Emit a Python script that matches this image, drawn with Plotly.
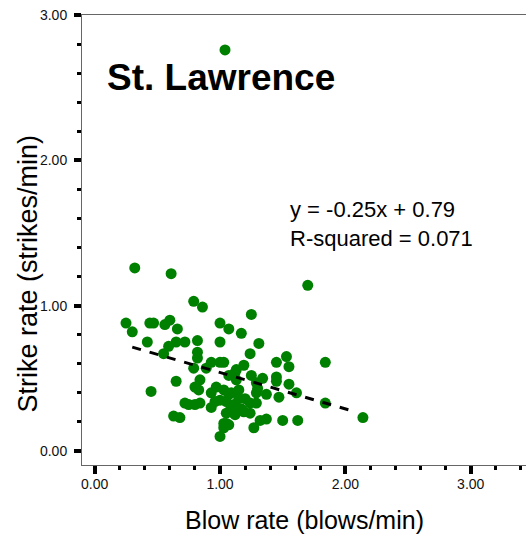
import plotly.graph_objects as go

# Blow rate (blows/min)
blow_rate = [0.32, 0.61, 1.70, 0.79, 0.86, 1.25, 0.25, 0.30, 0.44, 0.47,
             0.56, 0.60, 0.66, 1.00, 1.07, 1.17, 0.42, 0.59, 0.65, 0.72,
             0.55, 0.82, 1.00, 1.31, 0.82, 0.82, 1.24, 1.53, 1.45, 1.55,
             1.84, 0.79, 0.93, 1.00, 1.03, 0.89, 1.19, 1.13, 1.07, 1.25,
             0.84, 1.34, 1.45, 1.45, 0.65, 0.45, 0.80, 0.83, 0.97, 1.03,
             0.93, 1.13, 1.15, 1.29, 1.29, 1.37, 1.47, 1.55, 1.61, 1.84,
             2.14, 0.72, 0.80, 0.84, 0.93, 1.00, 1.05, 1.11, 1.19, 1.24,
             1.29, 1.05, 1.08, 0.63, 0.68, 1.03, 1.05, 1.00, 1.27, 1.32,
             1.37, 1.50, 1.62, 1.03, 1.11, 1.04, 1.07, 1.07, 1.15, 0.75,
             1.12, 0.96, 1.09, 1.30, 1.20, 1.17, 1.24, 1.12]
# Strike rate (strikes/min)
strike_rate = [1.26, 1.22, 1.14, 1.03, 0.99, 0.94, 0.88, 0.82, 0.88, 0.88,
               0.87, 0.90, 0.84, 0.88, 0.84, 0.81, 0.75, 0.72, 0.75, 0.75,
               0.67, 0.76, 0.75, 0.74, 0.68, 0.64, 0.67, 0.65, 0.61, 0.58,
               0.61, 0.57, 0.61, 0.61, 0.61, 0.57, 0.59, 0.56, 0.52, 0.52,
               0.49, 0.50, 0.51, 0.48, 0.48, 0.41, 0.44, 0.42, 0.44, 0.42,
               0.40, 0.49, 0.42, 0.47, 0.40, 0.39, 0.37, 0.46, 0.40, 0.33,
               0.23, 0.33, 0.32, 0.33, 0.30, 0.35, 0.34, 0.32, 0.27, 0.33,
               0.33, 0.26, 0.28, 0.24, 0.23, 0.19, 0.19, 0.10, 0.16, 0.21,
               0.22, 0.21, 0.21, 0.16, 0.26, 2.76, 0.39, 0.18, 0.36, 0.32,
               0.54, 0.34, 0.40, 0.43, 0.36, 0.29, 0.26, 0.25]

slope = -0.25
intercept = 0.79
fit_x = [0.30, 2.07]
fit_y = [slope * v + intercept for v in fit_x]

site_label = "St. Lawrence"
equation_text = "y = -0.25x + 0.79<br>R-squared = 0.071"
x_title = "Blow rate (blows/min)"
y_title = "Strike rate (strikes/min)"
tick_vals = [0, 1, 2, 3]
tick_text = ["0.00", "1.00", "2.00", "3.00"]

FONT = "Liberation Sans, Arial, sans-serif"

fig = go.Figure()
fig.add_trace(go.Scatter(
    x=blow_rate, y=strike_rate, mode="markers",
    marker=dict(color="#008000", size=11, line=dict(width=0)),
    showlegend=False, hoverinfo="skip"))
fig.add_trace(go.Scatter(
    x=fit_x, y=fit_y, mode="lines",
    line=dict(color="black", width=3, dash="dash"),
    showlegend=False, hoverinfo="skip"))

axis_common = dict(
    showgrid=False, zeroline=False,
    showline=True, linecolor="#666666", linewidth=1,
    ticks="outside", tickcolor="black",
    tickfont=dict(family=FONT, size=14, color="#111111"),
    tickvals=tick_vals, ticktext=tick_text,
)

fig.update_layout(
    width=526, height=543,
    margin=dict(l=82, r=0, t=15, b=78),
    paper_bgcolor="white", plot_bgcolor="white",
    xaxis=dict(range=[-0.101, 3.441], mirror=True,
               ticklen=8, tickwidth=4, ticklabelstandoff=-2,
               minor=dict(dtick=0.2, tick0=0, ticks="outside", ticklen=4,
                          tickwidth=3, tickcolor="black"),
               **axis_common),
    yaxis=dict(range=[-0.0963, 3.0], ticklen=7, tickwidth=4,
               ticklabelstandoff=4,
               minor=dict(dtick=0.2, tick0=0, ticks="outside", ticklen=4,
                          tickwidth=3, tickcolor="black"),
               **axis_common),
    annotations=[
        dict(text="<b>" + site_label + "</b>", x=0.082, y=2.567,
             xref="x", yref="y", xanchor="left", yanchor="middle",
             showarrow=False, font=dict(family=FONT, size=37, color="black")),
        dict(text=equation_text, x=1.542, y=1.565, xref="x", yref="y",
             xanchor="left", yanchor="middle", align="left",
             showarrow=False, font=dict(family=FONT, size=22, color="black")),
        dict(text=x_title, x=0.5, y=-0.122, xref="paper", yref="paper",
             xanchor="center", yanchor="middle", showarrow=False,
             font=dict(family=FONT, size=25, color="black")),
        dict(text=y_title, x=-0.1216, y=0.4256, xref="paper", yref="paper",
             xanchor="center", yanchor="middle", textangle=-90,
             showarrow=False, font=dict(family=FONT, size=27, color="black")),
    ],
)

fig.write_html(
    "out.html",
    config={"displayModeBar": False},
    post_script="document.body.style.margin='0';document.body.style.overflow='hidden';",
)
